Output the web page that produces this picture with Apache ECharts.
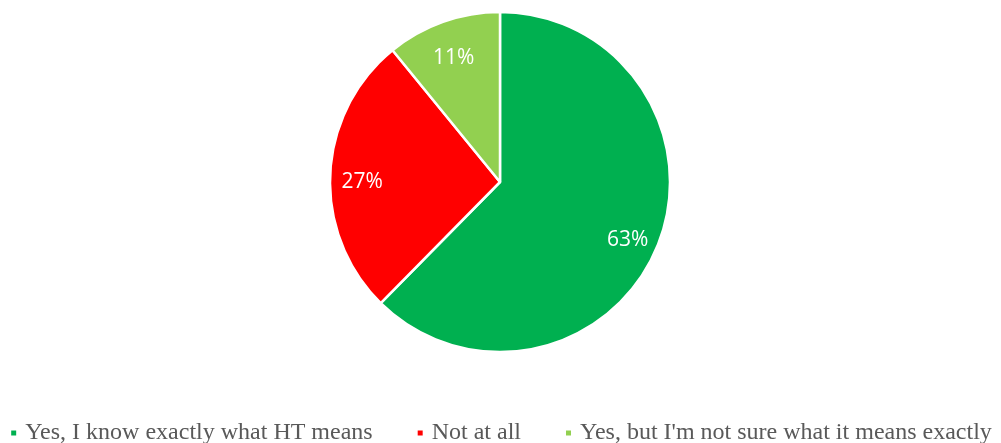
<!DOCTYPE html>
<html>
<head>
<meta charset="utf-8">
<script src="https://cdn.jsdelivr.net/npm/echarts@6/dist/echarts.min.js"></script>
<style>
  html, body { margin: 0; padding: 0; background: #ffffff; }
  #chart { width: 1001px; height: 443px; }
</style>
</head>
<body>
<div id="chart"></div>
<script>
// Survey answers and their shares (percent)
const categories = [
  'Yes, I know exactly what HT means',
  'Not at all',
  "Yes, but I'm not sure what it means exactly"
];
const shares = [63, 27, 11];
const colors = ['#00B050', '#FF0000', '#92D050'];

const sliceData = categories.map((name, i) => ({
  name: name,
  value: shares[i],
  itemStyle: { color: colors[i] }
}));

const chart = echarts.init(document.getElementById('chart'), null, { renderer: 'canvas' });

chart.setOption({
  animation: false,
  backgroundColor: '#ffffff',
  legend: {
    data: categories.map((name, i) => ({ name: name, itemStyle: { color: colors[i] } })),
    top: 421,
    left: 'center',
    padding: 0,
    icon: 'rect',
    itemWidth: 7,
    itemHeight: 7,
    itemGap: 43,
    textStyle: {
      fontFamily: '"Liberation Serif", "Times New Roman", serif',
      fontSize: 24,
      color: '#595959',
      padding: [0, 0, 0, 3]
    }
  },
  series: [
    {
      // the pie itself
      type: 'pie',
      center: [500, 182],
      radius: [0, 170],
      startAngle: 90,
      clockwise: true,
      silent: true,
      data: sliceData,
      itemStyle: { borderColor: '#ffffff', borderWidth: 2.5 },
      label: { show: false },
      labelLine: { show: false }
    },
    {
      // transparent ring that carries the percentage labels further out
      type: 'pie',
      center: [500, 182],
      radius: [100, 170],
      startAngle: 90,
      clockwise: true,
      silent: true,
      data: sliceData.map(d => ({ name: d.name, value: d.value })),
      itemStyle: { color: 'rgba(0,0,0,0)' },
      label: {
        show: true,
        position: 'inside',
        formatter: p => p.value + '%',
        color: '#ffffff',
        fontFamily: '"Open Sans", "Liberation Sans", sans-serif',
        fontSize: 21,
        offset: [0, 6]
      },
      labelLine: { show: false }
    }
  ]
});
</script>
</body>
</html>
